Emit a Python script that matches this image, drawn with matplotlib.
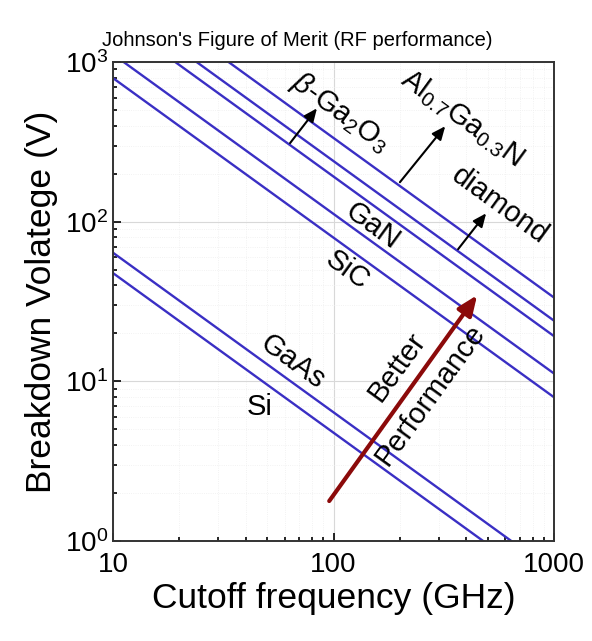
import matplotlib
matplotlib.use("Agg")
import matplotlib.pyplot as plt
import numpy as np

plt.rcParams['font.family'] = ['Liberation Sans', 'DejaVu Sans']
plt.rcParams['mathtext.fontset'] = 'custom'
plt.rcParams['mathtext.rm'] = 'Liberation Sans'
plt.rcParams['mathtext.it'] = 'Liberation Sans:italic'

# JFOM lines: V * f = const (V*GHz)
materials = ["Si", "GaAs", "SiC", "GaN", r"$\beta$-Ga$_2$O$_3$", "diamond", "Al$_{0.7}$Ga$_{0.3}$N"]
jfom = [477, 640, 7950, 11200, 19200, 24000, 33500]

# label positions (f, V)
label_f = [46.4, 65.5, 116, 150, 107, 569, 383]
label_v = [6.9, 13.2, 50, 94, 486, 127, 445]
label_rot = [0, -36, -36, -36, -36, -36, -36]

# black pointer arrows: tail (f, V) -> head (f, V)
ptr_labels = ["beta", "diamond", "AlGaN"]
ptr_tail_f = [63.5, 367, 200]
ptr_tail_v = [311, 67.3, 177]
ptr_head_f = [84.1, 492, 321]
ptr_head_v = [514, 113, 397]

# red "better performance" arrow
perf_tail = (95.6, 1.78)
perf_head = (448, 34.7)

fig = plt.figure(figsize=(5.92, 6.41), dpi=100)
ax = fig.add_axes([0.1909, 0.156, 0.745, 0.747])

f = np.logspace(1, 3, 200)
for c in jfom:
    ax.plot(f, c / f, color="#3a2fc4", lw=1.7)

ax.set_xscale("log")
ax.set_yscale("log")
ax.set_xlim(10, 1000)
ax.set_ylim(1, 1000)

ax.grid(True, which="major", color="#d8d8d8", lw=0.8)
ax.grid(True, which="minor", color="#eeeeee", lw=0.6, ls=":")

ax.set_xticks([10, 100, 1000])
ax.set_xticklabels(["10", "100", "1000"])
ax.tick_params(which="both", direction="in", labelsize=20, width=1.2)
ax.tick_params(which="major", length=6)
ax.tick_params(which="minor", length=3)
ax.tick_params(axis="x", pad=8)
for s in ax.spines.values():
    s.set_linewidth(1.4)
    s.set_color("#333333")

ax.set_xlabel("Cutoff frequency (GHz)", fontsize=25.5, labelpad=3)
ax.set_ylabel("Breakdown Volatege (V)", fontsize=25.5, labelpad=5)
fig.text(0.502, 0.937, "Johnson's Figure of Merit (RF performance)", fontsize=14.5,
         ha="center", va="center")

for name, x, y, r in zip(materials, label_f, label_v, label_rot):
    ax.text(x, y, name, fontsize=21, rotation=r, ha="center", va="center",
            rotation_mode="anchor")

for tf, tv, hf, hv in zip(ptr_tail_f, ptr_tail_v, ptr_head_f, ptr_head_v):
    ax.annotate("", xy=(hf, hv), xytext=(tf, tv),
                arrowprops=dict(arrowstyle="-|>,head_length=0.8,head_width=0.35",
                                color="black", lw=1.5, shrinkA=0, shrinkB=0))

ax.annotate("", xy=perf_head, xytext=perf_tail,
            arrowprops=dict(arrowstyle="-|>,head_length=1.2,head_width=0.5",
                            color="#8b0a0a", lw=3, shrinkA=0, shrinkB=0))
ax.text(194, 12.3, "Better", fontsize=21, rotation=54, ha="center", va="center",
        rotation_mode="anchor")
ax.text(274, 8.2, "Performance", fontsize=21, rotation=54, ha="center", va="center",
        rotation_mode="anchor")

fig.savefig("out.png", dpi=100)
